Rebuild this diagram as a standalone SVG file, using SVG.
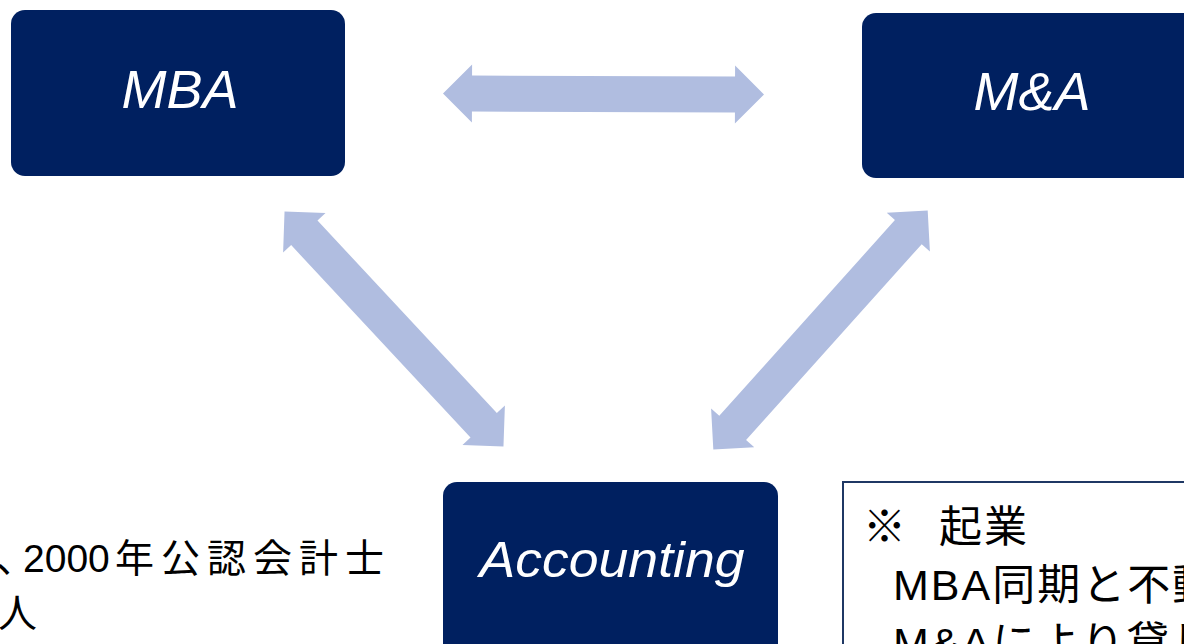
<svg xmlns="http://www.w3.org/2000/svg" width="1184" height="644" viewBox="0 0 1184 644">
<style>
.box{fill:#002060;}
.lbl{fill:#fff;font-family:"Liberation Sans",Arial,sans-serif;font-style:italic;font-size:54px;text-anchor:middle;}
.arr{fill:#B0BDE0;}
.jp{fill:#000;font-family:"Liberation Sans","Noto Sans CJK JP",sans-serif;font-size:39px;}
.nt{fill:#000;font-family:"Liberation Sans","Noto Sans CJK JP",sans-serif;font-size:43px;letter-spacing:2px;}
.note{fill:#fff;stroke:#1F3864;stroke-width:2;}
</style>
<defs>
<polygon id="dbl" points="0,0 29,-29 29,-18 292,-18 292,-29 321,0 292,29 292,18 29,18 29,29"/>
</defs>
<rect width="1184" height="644" fill="#fff"/>
<g id="connectors">
<use href="#dbl" class="arr" transform="translate(443,93.5) rotate(0.2)"/>
<use href="#dbl" class="arr" transform="translate(394,329) rotate(47) translate(-160.5,0)"/>
<use href="#dbl" class="arr" transform="translate(820.5,330) rotate(-48.1) translate(-160.5,0)"/>
</g>
<g id="node-mba">
<rect class="box" x="11" y="10" width="334" height="166" rx="14"/>
<text class="lbl" x="180" y="108">MBA</text>
</g>
<g id="node-ma">
<rect class="box" x="862" y="13" width="340" height="165" rx="14"/>
<text class="lbl" x="1032" y="110">M&amp;A</text>
</g>
<g id="node-accounting">
<rect class="box" x="443" y="482" width="335" height="180" rx="14"/>
<text class="lbl" x="612" y="577" textLength="265" lengthAdjust="spacingAndGlyphs" style="font-size:50px">Accounting</text>
</g>
<g id="left-text">
<text class="jp" x="-4" y="572">、</text>
<text class="jp" x="23" y="572">2000</text>
<text class="jp" x="115" y="572" letter-spacing="7">年公認会計士</text>
<text class="jp" x="-2" y="627">人</text>
</g>
<g id="note">
<rect class="note" x="843" y="482" width="360" height="180"/>
<text class="nt" x="863" y="542">※</text>
<text class="nt" x="939" y="542">起業</text>
<text class="nt" x="893" y="600">MBA同期と不動</text>
<text class="nt" x="893" y="658">M&amp;Aにより貸し</text>
</g>
</svg>
